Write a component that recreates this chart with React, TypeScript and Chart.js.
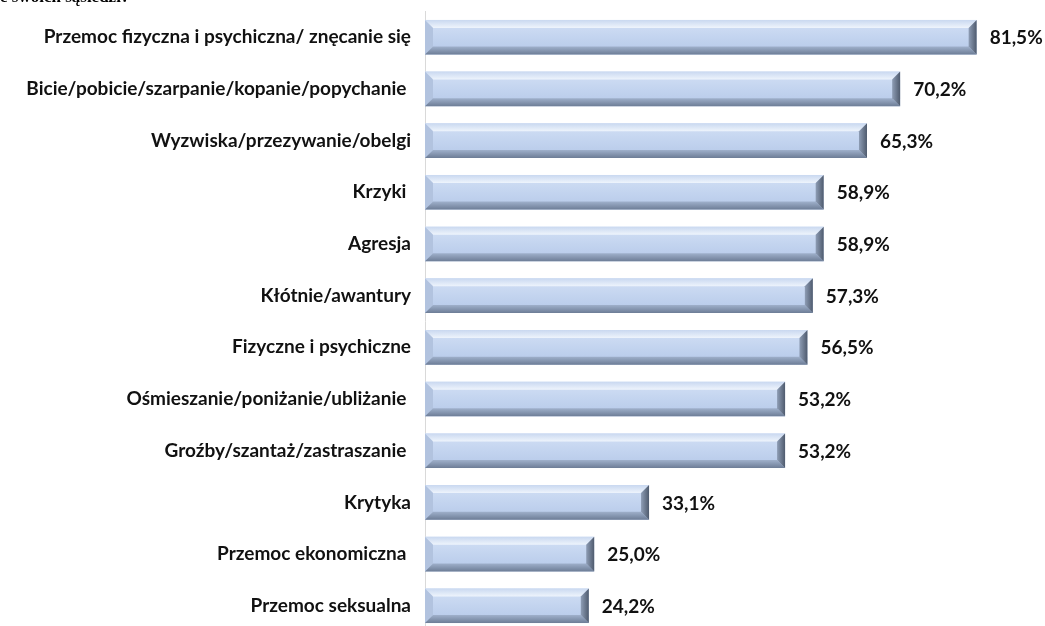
import React, { useEffect, useRef } from "react";
import { Chart, registerables } from "chart.js";

Chart.register(...registerables);

const categories = [
  "Przemoc fizyczna i psychiczna/ znęcanie się",
  "Bicie/pobicie/szarpanie/kopanie/popychanie ",
  "Wyzwiska/przezywanie/obelgi",
  "Krzyki ",
  "Agresja",
  "Kłótnie/awantury",
  "Fizyczne i psychiczne",
  "Ośmieszanie/poniżanie/ubliżanie ",
  "Groźby/szantaż/zastraszanie ",
  "Krytyka",
  "Przemoc ekonomiczna ",
  "Przemoc seksualna",
];

const values = [81.5, 70.2, 65.3, 58.9, 58.9, 57.3, 56.5, 53.2, 53.2, 33.1, 25.0, 24.2];

const titleText = "e swoich sąsiedzi?";

const FONT = "Lato, 'Noto Sans', sans-serif";

const bevelPlugin = {
  id: "bevel",
  afterDatasetsDraw(chart: any) {
    const ctx = chart.ctx;
    const meta = chart.getDatasetMeta(0);
    meta.data.forEach((bar: any, i: number) => {
      const { x, y, base, height } = bar.getProps(["x", "y", "base", "height"], true);
      const left = Math.min(base, x);
      const right = Math.max(base, x);
      const top = y - height / 2;
      const bottom = y + height / 2;
      const b = Math.min(8, (right - left) / 2);
      ctx.save();
      const face = ctx.createLinearGradient(0, top, 0, bottom);
      face.addColorStop(0, "#d3e0f5");
      face.addColorStop(0.5, "#c3d4ef");
      face.addColorStop(1, "#b5c8e8");
      ctx.fillStyle = face;
      ctx.fillRect(left, top, right - left, bottom - top);
      const tg = ctx.createLinearGradient(0, top, 0, top + b);
      tg.addColorStop(0, "#c9d8f0");
      tg.addColorStop(1, "#eef4fc");
      ctx.fillStyle = tg;
      ctx.beginPath();
      ctx.moveTo(left, top);
      ctx.lineTo(right, top);
      ctx.lineTo(right - b, top + b);
      ctx.lineTo(left + b, top + b);
      ctx.closePath();
      ctx.fill();
      ctx.fillStyle = "#b2c3df";
      ctx.beginPath();
      ctx.moveTo(left, top);
      ctx.lineTo(left + b, top + b);
      ctx.lineTo(left + b, bottom - b);
      ctx.lineTo(left, bottom);
      ctx.closePath();
      ctx.fill();
      const bg = ctx.createLinearGradient(0, bottom - b, 0, bottom);
      bg.addColorStop(0, "#9fb0cb");
      bg.addColorStop(1, "#6d7d96");
      ctx.fillStyle = bg;
      ctx.beginPath();
      ctx.moveTo(left, bottom);
      ctx.lineTo(left + b, bottom - b);
      ctx.lineTo(right - b, bottom - b);
      ctx.lineTo(right, bottom);
      ctx.closePath();
      ctx.fill();
      const rg = ctx.createLinearGradient(right - b, 0, right, 0);
      rg.addColorStop(0, "#8e9db5");
      rg.addColorStop(1, "#4f5b6e");
      ctx.fillStyle = rg;
      ctx.beginPath();
      ctx.moveTo(right, top);
      ctx.lineTo(right, bottom);
      ctx.lineTo(right - b, bottom - b);
      ctx.lineTo(right - b, top + b);
      ctx.closePath();
      ctx.fill();
      ctx.fillStyle = "#111";
      ctx.font = `bold 19px ${FONT}`;
      ctx.textAlign = "left";
      ctx.textBaseline = "middle";
      const v = values[i];
      ctx.fillText(v.toFixed(1).replace(".", ",") + "%", right + 13, y + 1);
      ctx.restore();
    });
  },
};

export default function App() {
  const ref = useRef<HTMLCanvasElement>(null);
  useEffect(() => {
    if (!ref.current) return;
    const chart = new Chart(ref.current, {
      type: "bar",
      data: {
        labels: categories,
        datasets: [
          {
            data: values,
            backgroundColor: "rgba(0,0,0,0)",
            borderWidth: 0,
            barPercentage: 1,
            categoryPercentage: 0.67,
          },
        ],
      },
      options: {
        indexAxis: "y",
        animation: false,
        responsive: false,
        layout: { padding: { left: 0, right: 0, top: 8, bottom: 0 } },
        plugins: { legend: { display: false }, tooltip: { enabled: false } },
        scales: {
          x: { display: false, min: 0, max: 91.6 },
          y: {
            afterFit: (s: any) => {
              s.width = 425;
            },
            grid: { display: false, drawTicks: false },
            border: { display: true, color: "#d9d9d9", width: 1 },
            ticks: {
              color: "#111",
              padding: 14,
              font: { family: FONT, size: 19, weight: "bold" },
            },
          },
        },
      },
      plugins: [bevelPlugin],
    });
    return () => chart.destroy();
  }, []);
  return (
    <div
      style={{
        position: "fixed",
        left: 0,
        top: 0,
        width: 1045,
        height: 626,
        overflow: "hidden",
        background: "#fff",
      }}
    >
      <canvas
        ref={ref}
        width={1045}
        height={671}
        style={{ display: "block", position: "absolute", left: 0, top: -14 }}
      />
      <div
        style={{
          position: "absolute",
          left: 0,
          top: -13,
          fontFamily: "'Liberation Serif', serif",
          fontWeight: "bold",
          fontSize: 17,
          whiteSpace: "nowrap",
          color: "#000",
        }}
      >
        {titleText}
      </div>
    </div>
  );
}
